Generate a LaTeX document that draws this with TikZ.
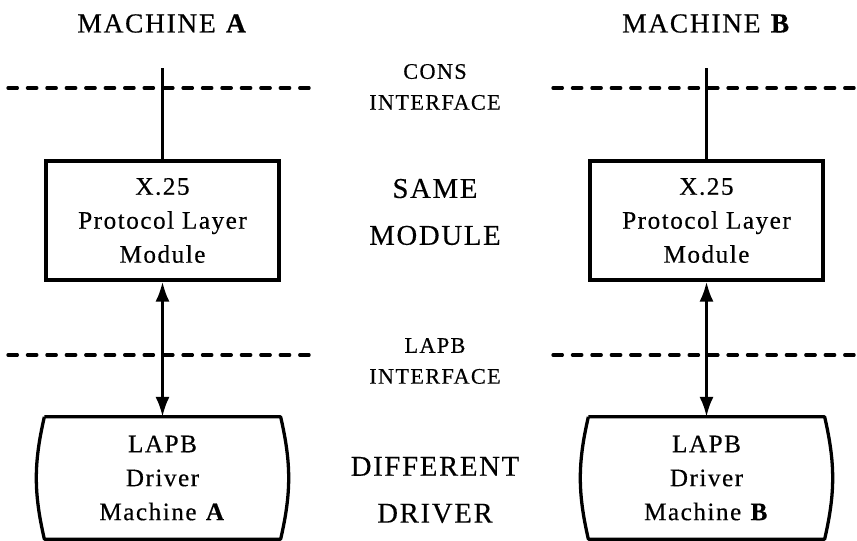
\documentclass[tikz,border=0pt]{standalone}
\usepackage{fontspec}
\setmainfont{Liberation Serif}[LetterSpace=6, FakeBold=0.4]
\usetikzlibrary{arrows.meta}

\tikzset{
	boks/.style={draw, line width=2.8pt, minimum width=6.99cm, minimum height=3.57cm, inner sep=0pt, align=center, font=\fontsize{21.5}{29}\selectfont},
	drvboks/.style={boks, draw=none},
	drvkant/.style={line width=2.8pt, line join=round},
	linje/.style={line width=2.8pt},
	grense/.style={line width=2.8pt, line cap=round, dash pattern=on 8pt off 8.6pt},
	pil/.style={line width=2.6pt, {Latex[length=17pt,width=12pt]}-{Latex[length=17pt,width=12pt]}},
	maskin/.style={font=\fontsize{23.5}{29}\selectfont},
	lagtekst/.style={align=center, font=\fontsize{19}{26.4}\selectfont},
	stortekst/.style={align=center, font=\fontsize{24.5}{40}\selectfont},
}

\begin{document}
\begin{tikzpicture}[x=0.03cm, y=-0.03cm]
		\useasboundingbox (0,0) rectangle (857,541);

		% Maskinnavn
		\node[maskin] (maskinA) at (162.5,23.5) {MACHINE \textbf{A}};
		\node[maskin] (maskinB) at (706.5,23.5) {MACHINE \textbf{B}};

		% Grensesnitt
		\draw[grense] (8,88) -- (316,88);
		\draw[grense] (553,88) -- (857,88);
		\draw[grense] (8,355) -- (316,355);
		\draw[grense] (553,355) -- (857,355);

		% Tekst i midten
		\node[lagtekst] (cons) at (435,87) {CONS\\INTERFACE};
		\node[stortekst] (same) at (435,212) {SAME\\MODULE};
		\node[lagtekst] (lapb) at (435,361) {LAPB\\INTERFACE};
		\node[stortekst] (ulik) at (435,490) {DIFFERENT\\DRIVER};

		% X.25-moduler
		\node[boks] (x25A) at (162.5,220.5) {X.25\\Protocol Layer\\Module};
		\node[boks] (x25B) at (706.5,220.5) {X.25\\Protocol Layer\\Module};

		% LAPB-drivere
		\node[drvboks] (drvA) at (162.5,478) {LAPB\\Driver\\Machine \textbf{A}};
		\node[drvboks] (drvB) at (706.5,478) {LAPB\\Driver\\Machine \textbf{B}};
		\draw[drvkant] (drvA.north west) -- (drvA.north east) to[bend left=13] (drvA.south east)
			-- (drvA.south west) to[bend left=13] (drvA.north west);
		\draw[drvkant] (drvB.north west) -- (drvB.north east) to[bend left=13] (drvB.south east)
			-- (drvB.south west) to[bend left=13] (drvB.north west);

		% Forbindelser
		\coordinate (toppA) at (162.5,68);
		\coordinate (toppB) at (706.5,68);
		\draw[linje] (x25A.north) -- (toppA);
		\draw[linje] (x25B.north) -- (toppB);
		\draw[pil] (x25A.south) -- (drvA.north);
		\draw[pil] (x25B.south) -- (drvB.north);
	\end{tikzpicture}
\end{document}
